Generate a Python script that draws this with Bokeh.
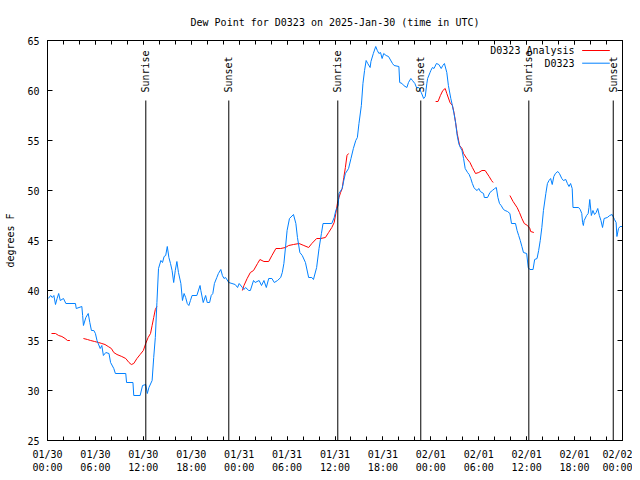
import math
from bokeh.plotting import figure
from bokeh.models import FixedTicker, LinearAxis, Range1d, Title
from bokeh.core.properties import value
from bokeh.embed import file_html
from bokeh.resources import INLINE

# ---- data (hours since 2025-01-30 00:00 UTC, dew point in F) ----
obs_hours = [0.1, 0.4, 0.6, 0.8, 1.0, 1.2, 1.4, 1.6, 2.0, 2.3, 3.5, 3.6, 4.3, 4.4, 4.5, 4.8, 5.1, 5.3,
             5.5, 5.8, 6.0, 6.2, 6.6, 6.8, 7.0, 7.3, 7.7, 7.9, 8.3, 8.5, 9.8, 9.9, 10.7, 10.8, 11.6,
             11.9, 12.3, 12.5, 12.7, 13.1, 13.3, 13.5, 13.7, 13.9, 14.2, 14.4, 14.6, 14.8, 15.0,
             15.2, 15.4, 15.6, 15.8, 16.0, 16.2, 16.4, 16.7, 16.9, 17.1, 17.3, 17.5, 17.7, 17.9,
             18.1, 18.7, 19.1, 19.2, 19.5, 19.8, 20.0, 20.3, 20.5, 20.7, 20.9, 21.2, 21.4, 21.7,
             21.9, 22.1, 22.3, 22.7, 23.1, 23.5, 23.8, 24.0, 24.4, 24.6, 24.8, 25.2, 25.4, 25.8,
             26.0, 26.5, 26.8, 27.1, 27.4, 27.7, 28.1, 28.4, 28.8, 29.2, 29.4, 29.6, 29.8, 30.0,
             30.3, 30.8, 31.1, 31.3, 31.6, 31.9, 32.3, 32.7, 33.1, 33.3, 33.7, 34.0, 34.3, 34.5,
             35.6, 35.9, 36.1, 36.4, 36.5, 36.9, 37.1, 37.3, 37.7, 38.0, 38.3, 38.6, 38.8, 39.0,
             39.3, 39.5, 39.7, 39.9, 40.1, 40.4, 40.5, 40.8, 41.1, 41.3, 41.5, 41.7, 41.9, 42.1,
             42.4, 42.7, 43.2, 43.4, 44.0, 44.1, 44.4, 44.6, 45.0, 45.2, 45.5, 45.7, 46.0, 46.2,
             46.5, 46.8, 47.1, 47.3, 47.5, 47.6, 47.9, 48.0, 48.2, 48.4, 48.7, 49.0, 49.3, 49.5,
             49.7, 50.0, 50.2, 50.5, 50.7, 50.9, 51.1, 51.3, 51.5, 51.7, 51.9, 52.1, 52.3, 52.6,
             52.8, 53.0, 53.2, 53.4, 53.6, 53.8, 54.0, 54.2, 54.6, 54.7, 55.1, 55.4, 55.7, 56.0,
             56.2, 56.4, 56.6, 56.8, 57.1, 57.3, 57.6, 57.9, 58.1, 58.6, 58.8, 59.0, 59.2, 59.4,
             59.6, 60.0, 60.2, 60.4, 60.8, 61.0, 61.3, 61.5, 61.7, 61.9, 62.1, 62.4, 62.6, 62.8,
             63.0, 63.2, 63.4, 63.6, 63.9, 64.1, 64.4, 64.6, 64.9, 65.1, 65.3, 65.5, 65.7, 65.8,
             66.5, 66.7, 66.9, 67.0, 67.1, 67.2, 67.5, 67.7, 67.8, 67.9, 68.1, 68.3, 68.5, 68.7,
             68.9, 69.1, 69.3, 69.5, 69.7, 70.1, 70.4, 70.7, 71.0, 71.2, 71.3, 71.5, 71.7, 72.0]
obs_values = [39.2, 39.5, 39.3, 39.5, 38.6, 39.2, 39.7, 39.0, 39.2, 38.7, 38.7, 38.2, 38.4, 37.5, 36.5, 37.3, 37.7, 36.8,
              36.0, 36.0, 35.7, 35.0, 34.2, 34.5, 33.5, 33.8, 33.7, 32.8, 32.2, 31.7, 31.7, 30.8, 30.8, 29.5, 29.5,
              30.5, 30.6, 29.7, 30.3, 31.0, 33.3, 35.3, 38.8, 42.2, 43.0, 42.8, 43.4, 43.5, 44.4,
              43.3, 42.7, 42.0, 40.8, 42.0, 42.9, 41.8, 40.7, 39.0, 39.7, 39.3, 38.7, 38.5, 39.0,
              39.5, 39.5, 40.5, 40.0, 38.8, 39.5, 38.8, 38.8, 39.5, 39.7, 40.7, 41.3, 41.7, 42.1,
              41.5, 41.2, 41.3, 40.8, 40.7, 40.6, 40.3, 40.7, 40.3, 40.1, 40.3, 40.0, 40.0, 41.0,
              40.8, 41.0, 40.5, 41.0, 40.3, 41.2, 41.2, 40.8, 41.0, 41.3, 41.8, 42.7, 44.3, 46.0,
              47.2, 47.6, 46.7, 45.3, 43.8, 43.5, 42.8, 41.3, 41.3, 41.1, 42.3, 44.2, 45.7, 46.7,
              46.7, 47.3, 48.0, 48.5, 49.7, 50.2, 51.0, 51.7, 52.2, 53.2, 54.2, 55.0, 55.3, 56.7,
              58.5, 60.7, 62.0, 63.0, 62.7, 62.3, 62.9, 63.7, 64.4, 64.0, 63.7, 63.8, 63.2, 63.7,
              63.5, 63.4, 62.7, 62.5, 62.4, 60.8, 60.7, 60.5, 60.3, 60.8, 61.2, 61.0, 60.7, 60.3,
              60.3, 59.8, 59.2, 59.4, 60.7, 61.2, 61.8, 62.0, 62.3, 62.2, 62.7, 62.6, 62.2, 62.5,
              62.7, 61.8, 60.5, 59.2, 58.5, 57.7, 56.8, 55.5, 54.7, 54.3, 54.0, 53.2, 52.2, 51.8,
              51.6, 51.2, 50.7, 50.3, 50.1, 50.0, 50.2, 49.9, 49.7, 49.3, 49.3, 49.8, 50.0, 50.2,
              50.3, 49.3, 48.7, 48.5, 48.1, 48.0, 47.9, 47.7, 46.7, 46.7, 46.0, 45.5, 45.0, 44.4,
              43.8, 43.7, 42.3, 42.1, 42.1, 43.1, 43.2, 44.0, 45.0, 46.3, 48.0, 49.7, 50.7, 51.0,
              51.2, 50.6, 51.4, 51.7, 51.9, 51.7, 51.2, 51.0, 51.1, 50.7, 50.4, 50.7, 50.2, 48.3,
              48.3, 48.1, 47.7, 46.8, 46.5, 47.0, 47.5, 47.7, 48.3, 49.1, 47.5, 48.0, 47.6, 47.8,
              48.2, 47.5, 47.0, 46.3, 47.2, 47.3, 47.5, 47.6, 47.1, 46.8, 45.4, 46.2, 46.4, 46.4]

NAN = float("nan")
analysis_hours = [0.5, 1.0, 1.4, 1.8, 2.2, 2.5, 2.8, NAN,
                  4.5, 5.0, 5.4, 5.9, 6.4, 6.8, 7.2, 7.6, 8.0, 8.3, 8.7, 9.3, 9.8, 10.2, 10.5, 10.8,
                  11.2, 11.6, 12.0, 12.3, 12.6, 12.9, 13.1, 13.3, 13.5, 13.7, NAN,
                  24.4, 24.6, 25.0, 25.4, 25.8, 26.3, 26.6, 27.1, 27.7, 28.1, 28.6, 29.2, 29.8, 30.2,
                  30.8, 31.5, 32.1, 32.7, 33.1, 33.7, 34.2, 34.8, 35.2, 35.6, 35.9, 36.1, 36.3, 36.5,
                  36.7, 36.9, 37.1, 37.3, 37.5, 37.7, NAN,
                  48.6, 48.9, 49.2, 49.5, 49.8, 50.0, 50.4, 50.7, 50.9, 51.1, 51.3, 51.6, 51.9, 52.1,
                  52.5, 52.9, 53.2, 53.6, 54.0, 54.4, 54.8, 55.3, 55.6, 55.8, NAN,
                  57.9, 58.3, 58.8, 59.1, 59.4, 59.7, 60.1, 60.4, 60.5, 60.9]
analysis_values = [35.7, 35.7, 35.5, 35.4, 35.2, 35.0, 35.0, NAN,
                   35.2, 35.1, 35.0, 34.9, 34.8, 34.7, 34.6, 34.4, 34.2, 33.8, 33.6, 33.4, 33.2, 32.8, 32.6, 32.7,
                   33.2, 33.6, 34.0, 34.7, 35.3, 35.7, 36.5, 37.3, 38.1, 38.4, NAN,
                   40.0, 40.5, 41.2, 41.8, 42.0, 42.7, 43.1, 42.9, 42.9, 43.5, 44.2, 44.2, 44.3, 44.5,
                   44.6, 44.7, 44.5, 44.3, 44.7, 45.2, 45.2, 45.3, 45.8, 46.3, 46.8, 47.7, 48.7, 49.3,
                   49.8, 50.2, 51.3, 52.3, 53.5, 53.7, NAN,
                   58.9, 58.9, 59.5, 60.0, 60.2, 59.7, 58.8, 58.5, 57.8, 56.8, 55.7, 54.5, 54.2, 53.7,
                   53.2, 52.8, 52.3, 51.7, 51.8, 52.0, 52.0, 51.4, 51.0, 50.8, NAN,
                   49.5, 48.9, 48.3, 47.8, 47.2, 46.7, 46.5, 46.2, 45.9, 45.8]

sun_hours = [12.31, 22.70, 36.35, 46.74, 60.27, 70.84]
sun_labels = ["Sunrise", "Sunset", "Sunrise", "Sunset", "Sunrise", "Sunset"]

tick_hours = [0, 6, 12, 18, 24, 30, 36, 42, 48, 54, 60, 66, 72]
tick_dates = ["01/30", "01/30", "01/30", "01/30", "01/31", "01/31", "01/31", "01/31",
              "02/01", "02/01", "02/01", "02/01", "02/02"]
tick_times = ["00:00", "06:00", "12:00", "18:00", "00:00", "06:00", "12:00", "18:00",
              "00:00", "06:00", "12:00", "18:00", "00:00"]
y_ticks = [25, 30, 35, 40, 45, 50, 55, 60, 65]

series_names = ["D0323 Analysis", "D0323"]
series_colors = ["#ff0000", "#0080ff"]

FONT = "DejaVu Sans Mono"
FS = "10px"

# ---- figure ----
p = figure(width=632, height=475, output_backend="svg", toolbar_location=None,
           x_range=Range1d(0, 72), y_range=Range1d(25, 65),
           min_border_left=47, min_border_right=10, min_border_top=40, min_border_bottom=35)
p.grid.visible = False
p.outline_line_color = "black"
p.outline_line_width = 1
p.background_fill_color = "white"
p.border_fill_color = "white"

minor = list(range(0, 73, 2))

xa = p.xaxis[0]
xa.ticker = FixedTicker(ticks=tick_hours, minor_ticks=minor)
xa.major_label_overrides = {h: d + "\n" + t for h, d, t in zip(tick_hours, tick_dates, tick_times)}
ya = p.yaxis[0]
ya.ticker = FixedTicker(ticks=y_ticks)
ya.axis_label = "degrees F"

for ax in (xa, ya):
    ax.major_label_text_font = FONT
    ax.major_label_text_font_size = FS
    ax.major_label_text_color = "black"
    ax.axis_label_text_font = FONT
    ax.axis_label_text_font_size = FS
    ax.axis_label_text_font_style = "normal"
    ax.axis_label_text_color = "black"
    ax.major_tick_out = 0
    ax.minor_tick_out = 0
    ax.axis_line_color = "black"
    ax.major_tick_line_color = "black"
    ax.minor_tick_line_color = "black"
xa.major_tick_in = 4
xa.minor_tick_in = 4
xa.major_label_standoff = 8
ya.major_tick_in = 5
ya.minor_tick_line_color = None
ya.major_label_standoff = 8
ya.axis_label_standoff = 8

# mirrored ticks on the top and right edges (gnuplot style), without labels
top = LinearAxis(ticker=FixedTicker(ticks=tick_hours, minor_ticks=minor))
top.major_tick_in = 4
top.minor_tick_in = 4
right = LinearAxis(ticker=FixedTicker(ticks=y_ticks))
right.major_tick_in = 5
right.minor_tick_line_color = None
for ax in (top, right):
    ax.major_tick_out = 0
    ax.minor_tick_out = 0
    ax.major_label_text_font_size = "1px"
    ax.major_label_text_color = None
    ax.major_label_standoff = 0
    ax.axis_line_color = "black"
p.add_layout(top, "above")
p.add_layout(right, "right")

title = Title(text="Dew Point for D0323 on 2025-Jan-30 (time in UTC)", align="center",
              text_font=FONT, text_font_size=FS, text_font_style="normal",
              text_color="black", standoff=25)
p.add_layout(title, "above")

# ---- data lines ----
p.line(analysis_hours, analysis_values, line_color=series_colors[0], line_width=1)
p.line(obs_hours, obs_values, line_color=series_colors[1], line_width=1)

# ---- sunrise / sunset markers ----
p.segment(x0=sun_hours, y0=[25] * len(sun_hours), x1=sun_hours, y1=[59] * len(sun_hours),
          line_color="black", line_width=1)
p.text(x=sun_hours, y=[59.8] * len(sun_hours), text=sun_labels, angle=math.pi / 2,
       text_align="left", text_baseline="middle", text_font=value(FONT), text_font_size=FS,
       text_color="black")

# ---- legend (gnuplot style: label, then sample line) ----
leg_y = [64.0, 62.73]
p.text(x=[66.0, 66.0], y=leg_y, text=series_names, text_align="right", text_baseline="middle",
       text_font=value(FONT), text_font_size=FS, text_color="black")
p.segment(x0=[66.95, 66.95], y0=leg_y, x1=[70.41, 70.41], y1=leg_y,
          line_color=series_colors, line_width=1)

open("out.html", "w").write(file_html(p, INLINE))
